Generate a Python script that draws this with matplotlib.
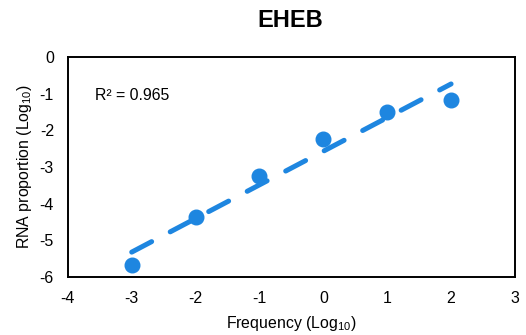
import numpy as np
import matplotlib
matplotlib.use("Agg")
import matplotlib.pyplot as plt

plt.rcParams['font.family'] = ['Liberation Sans', 'DejaVu Sans']
plt.rcParams['mathtext.fontset'] = 'custom'
plt.rcParams['mathtext.rm'] = 'Liberation Sans'
plt.rcParams['axes.unicode_minus'] = False

# log10 frequency vs log10 RNA proportion
freq = np.array([-3, -2, -1, 0, 1, 2])
rna = np.array([-5.67, -4.36, -3.24, -2.23, -1.50, -1.17])
r_squared = 0.965
blue = '#1e86e0'

fig = plt.figure(figsize=(5.26, 3.35), dpi=100)
ax = fig.add_axes([0.129, 0.173, 0.850, 0.657])

ax.plot(freq, rna, 'o', color=blue, markersize=10.5, zorder=3)

# linear trendline
slope, icpt = np.polyfit(freq, rna, 1)
xl = np.array([freq.min(), freq.max()])
ax.plot(xl, slope * xl + icpt, color=blue, lw=3.6, dashes=(4.5, 4.2),
        dash_capstyle='round', zorder=2)

ax.text(-3.58, -1.05, 'R² = {:.3f}'.format(r_squared), fontsize=11.4, va='center')

ax.set_xlim(-4, 3)
ax.set_ylim(-6, 0)
ax.set_xticks(range(-4, 4))
ax.set_yticks(range(-6, 1))
ax.tick_params(length=0, labelsize=11.5, pad=10)
for s in ax.spines.values():
    s.set_linewidth(1.4)

ax.set_xlabel('Frequency (Log$\\mathregular{_{10}}$)', fontsize=11.4, labelpad=6)
ax.set_ylabel('RNA proportion (Log$\\mathregular{_{10}}$)', fontsize=11.4, labelpad=4)
fig.text(0.552, 0.94, 'EHEB', fontsize=17, fontweight='bold', ha='center', va='center')

fig.savefig('out.png', dpi=100)
